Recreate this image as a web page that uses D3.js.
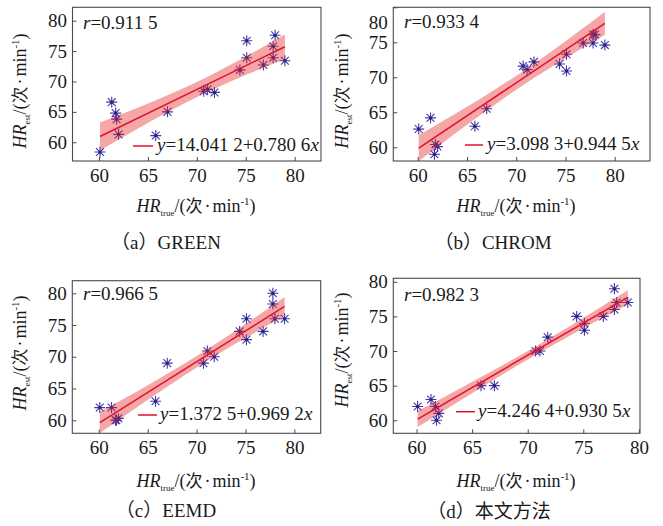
<!DOCTYPE html>
<html>
<head>
<meta charset="utf-8">
<script src="https://cdn.jsdelivr.net/npm/d3@7/dist/d3.min.js"></script>
<style>
  html, body { margin: 0; padding: 0; background: #fff; }
  svg { display: block; }
  text { font-family: "Liberation Serif", "Noto Sans CJK SC", serif; fill: #1a1a1a; }
  .cjk { font-family: "Noto Sans CJK SC", sans-serif; }
  .lat { font-family: "Liberation Serif", serif; }
</style>
</head>
<body>
<svg id="chart" width="663" height="526"></svg>
<script>
// ---------------- data ----------------
const trueHR   = [60.1, 61.3, 61.7, 61.8, 62.0, 65.8, 67.0, 70.7, 71.1, 71.8, 74.4, 75.1, 75.1, 76.8, 77.8, 77.8, 78.0, 79.0];
const estGREEN = [58.4, 66.6, 64.8, 63.8, 61.3, 61.1, 65.0, 68.4, 68.7, 68.2, 71.9, 76.7, 73.9, 72.7, 75.8, 73.9, 77.6, 73.4];
const estCHROM = [62.6, 64.2, 59.0, 60.4, 60.1, 63.0, 65.5, 71.6, 71.1, 72.2, 71.9, 73.3, 70.9, 74.9, 74.9, 76.1, 76.1, 74.6];
const estEEMD  = [62.0, 62.0, 60.0, 60.0, 60.3, 63.0, 69.0, 69.0, 70.9, 70.0, 74.0, 76.0, 72.7, 74.0, 80.0, 78.3, 76.0, 76.0];
const estOurs  = [62.0, 63.0, 62.0, 60.0, 61.0, 65.0, 65.0, 70.0, 70.0, 72.0, 75.0, 74.0, 73.0, 75.0, 79.0, 76.0, 77.0, 77.0];
const intercepts = [14.0412, 3.0983, 1.3725, 4.2464];
const slopes     = [0.7806, 0.9445, 0.9692, 0.9305];
const rValues    = ["0.911 5", "0.933 4", "0.966 5", "0.982 3"];
const capLetters = ["a", "b", "c", "d"];
const capNames   = ["GREEN", "CHROM", "EEMD", "本文方法"];
const xTicks = [60, 65, 70, 75, 80];
const yTicks = [60, 65, 70, 75, 80];
const estSeries = [estGREEN, estCHROM, estEEMD, estOurs];
const tCrit = 2.120; // t(0.975, n-2 = 16)

// ---------------- layout ----------------
const panels = [
  { L: 72.5, R: 321, T: 7.3, B: 161, xd: [57.29, 82.69], yd: [56.92, 82.2],
    r: [83, 29], leg: [133, 153, 146, 157, 151], xl: [196, 212], yl: [26, 91], cap: [166, 249], shift80: 0 },
  { L: 393.3, R: 650, T: 7.3, B: 161, xd: [57.52, 83.58], yd: [58.04, 80.0],
    r: [404, 28], leg: [465, 483, 145, 487, 150], xl: [516, 212], yl: [348, 91], cap: [493, 249], shift80: 15.4 },
  { L: 72.3, R: 320.7, T: 280.7, B: 433.3, xd: [57.29, 82.69], yd: [57.95, 81.98],
    r: [83, 300], leg: [138, 157, 415, 160, 420], xl: [196, 487], yl: [26, 353], cap: [166, 517], shift80: 0 },
  { L: 393.3, R: 640, T: 278.3, B: 433.3, xd: [57.91, 80.10], yd: [58.12, 80.5],
    r: [404, 300.7], leg: [456, 475, 411.7, 478, 416.7], xl: [516, 487], yl: [348, 350], cap: [489, 518], shift80: 0 }
];

const FS = 19;
const frameColor = "#4a4a4a";
const markerColor = "#4238a8";
const lineColor = "#e3102b";

function fmt4(v) {
  const s = v.toFixed(4);
  return s.slice(0, -1) + " " + s.slice(-1);
}

const svg = d3.select("#chart");

panels.forEach((p, i) => {
  const est = estSeries[i];
  const a = intercepts[i], b = slopes[i];
  const x = d3.scaleLinear().domain(p.xd).range([p.L, p.R]);
  const y = d3.scaleLinear().domain(p.yd).range([p.B, p.T]);
  const g = svg.append("g");

  const clipId = "clip" + i;
  svg.append("clipPath").attr("id", clipId)
    .append("rect").attr("x", p.L).attr("y", p.T).attr("width", p.R - p.L).attr("height", p.B - p.T);

  // markers
  const mk = g.append("g").attr("clip-path", `url(#${clipId})`);
  const pts = trueHR.map((t, k) => [t, est[k]]);
  const star = "M-5.5,0H5.5M0,-5.5V5.5M-3.9,-3.9L3.9,3.9M-3.9,3.9L3.9,-3.9";
  const mg = mk.selectAll("g.pt").data(pts).enter().append("g")
    .attr("transform", d => `translate(${x(d[0])},${y(d[1])})`);
  mg.append("path").attr("d", star).attr("stroke", markerColor).attr("stroke-width", 1.1).attr("fill", "none");
  mg.append("circle").attr("r", 1.5).attr("fill", "#2a2275");

  // 95% confidence band of the regression line
  const n = trueHR.length;
  const xm = d3.mean(trueHR);
  const sxx = d3.sum(trueHR, t => (t - xm) * (t - xm));
  const sse = d3.sum(pts, d => Math.pow(d[1] - (a + b * d[0]), 2));
  const s = Math.sqrt(sse / (n - 2));
  const xs = Array.from(new Set(trueHR)).sort((u, v) => u - v);
  const band = xs.map(t => {
    const h = tCrit * s * Math.sqrt(1 / n + (t - xm) * (t - xm) / sxx);
    const f = a + b * t;
    return { t, lo: f - h, hi: f + h };
  });
  const area = d3.area().x(d => x(d.t)).y0(d => y(d.lo)).y1(d => y(d.hi)).curve(d3.curveMonotoneX);
  const cg = g.append("g").attr("clip-path", `url(#${clipId})`);
  cg.append("path").datum(band).attr("d", area).attr("fill", "#e52222").attr("fill-opacity", 0.4);

  // fit line
  const x0 = d3.min(trueHR), x1 = d3.max(trueHR);
  cg.append("line")
    .attr("x1", x(x0)).attr("y1", y(a + b * x0))
    .attr("x2", x(x1)).attr("y2", y(a + b * x1))
    .attr("stroke", lineColor).attr("stroke-width", 1.5);

  // axes
  const xa = g.append("g").attr("transform", `translate(0,${p.B})`)
    .call(d3.axisBottom(x).tickValues(xTicks).tickSizeInner(-4).tickSizeOuter(0).tickPadding(7.5));
  const ya = g.append("g").attr("transform", `translate(${p.L},0)`)
    .call(d3.axisLeft(y).tickValues(yTicks).tickSizeInner(-4).tickSizeOuter(0).tickPadding(5.5));
  [xa, ya].forEach(ax => {
    ax.select(".domain").remove();
    ax.selectAll(".tick line").attr("stroke", frameColor);
    ax.selectAll(".tick text").attr("font-size", FS).attr("font-family", "Liberation Serif, serif").attr("fill", "#1a1a1a");
  });
  if (p.shift80) {
    ya.selectAll(".tick text").filter(d => d === 80).attr("y", p.shift80);
  }

  // frame
  g.append("rect").attr("x", p.L).attr("y", p.T).attr("width", p.R - p.L).attr("height", p.B - p.T)
    .attr("fill", "none").attr("stroke", frameColor).attr("stroke-width", 1.1);

  // r text
  const rt = g.append("text").attr("class", "lat").attr("x", p.r[0]).attr("y", p.r[1]).attr("font-size", FS);
  rt.append("tspan").attr("font-style", "italic").text("r");
  rt.append("tspan").text("=" + rValues[i]);

  // legend
  g.append("line").attr("x1", p.leg[0]).attr("x2", p.leg[1]).attr("y1", p.leg[2]).attr("y2", p.leg[2])
    .attr("stroke", lineColor).attr("stroke-width", 1.5);
  const lt = g.append("text").attr("class", "lat").attr("x", p.leg[3]).attr("y", p.leg[4]).attr("font-size", FS);
  lt.append("tspan").attr("font-style", "italic").text("y");
  lt.append("tspan").text("=" + fmt4(a) + "+" + fmt4(b));
  lt.append("tspan").attr("font-style", "italic").text("x");

  // axis labels
  function axisLabel(sel, sub) {
    sel.append("tspan").attr("class", "lat").attr("font-style", "italic").text("HR");
    sel.append("tspan").attr("class", "lat").attr("font-size", 9).attr("dy", 4).text(sub);
    sel.append("tspan").attr("class", "lat").attr("dy", -4).text("/(");
    sel.append("tspan").attr("class", "cjk").attr("font-size", 17).text("次");
    sel.append("tspan").attr("class", "lat").attr("dx", 2).text("·");
    sel.append("tspan").attr("class", "lat").attr("dx", 2).text("min");
    sel.append("tspan").attr("class", "lat").attr("font-size", 11).attr("dy", -7).text("-1");
    sel.append("tspan").attr("class", "lat").attr("dy", 7).text(")");
  }
  const xlab = g.append("text").attr("x", p.xl[0]).attr("y", p.xl[1]).attr("text-anchor", "middle").attr("font-size", 18);
  axisLabel(xlab, "true");
  const ylab = g.append("text").attr("transform", `translate(${p.yl[0]},${p.yl[1]}) rotate(-90)`)
    .attr("text-anchor", "middle").attr("font-size", 18);
  axisLabel(ylab, "est");

  // caption
  const ct = g.append("text").attr("x", p.cap[0]).attr("y", p.cap[1]).attr("text-anchor", "middle").attr("font-size", 19);
  ct.append("tspan").attr("class", "cjk").text("（");
  ct.append("tspan").attr("class", "lat").text(capLetters[i]);
  ct.append("tspan").attr("class", "cjk").text("）");
  ct.append("tspan").attr("class", /[A-Za-z]/.test(capNames[i]) ? "lat" : "cjk").text(capNames[i]);
});
</script>
</body>
</html>
